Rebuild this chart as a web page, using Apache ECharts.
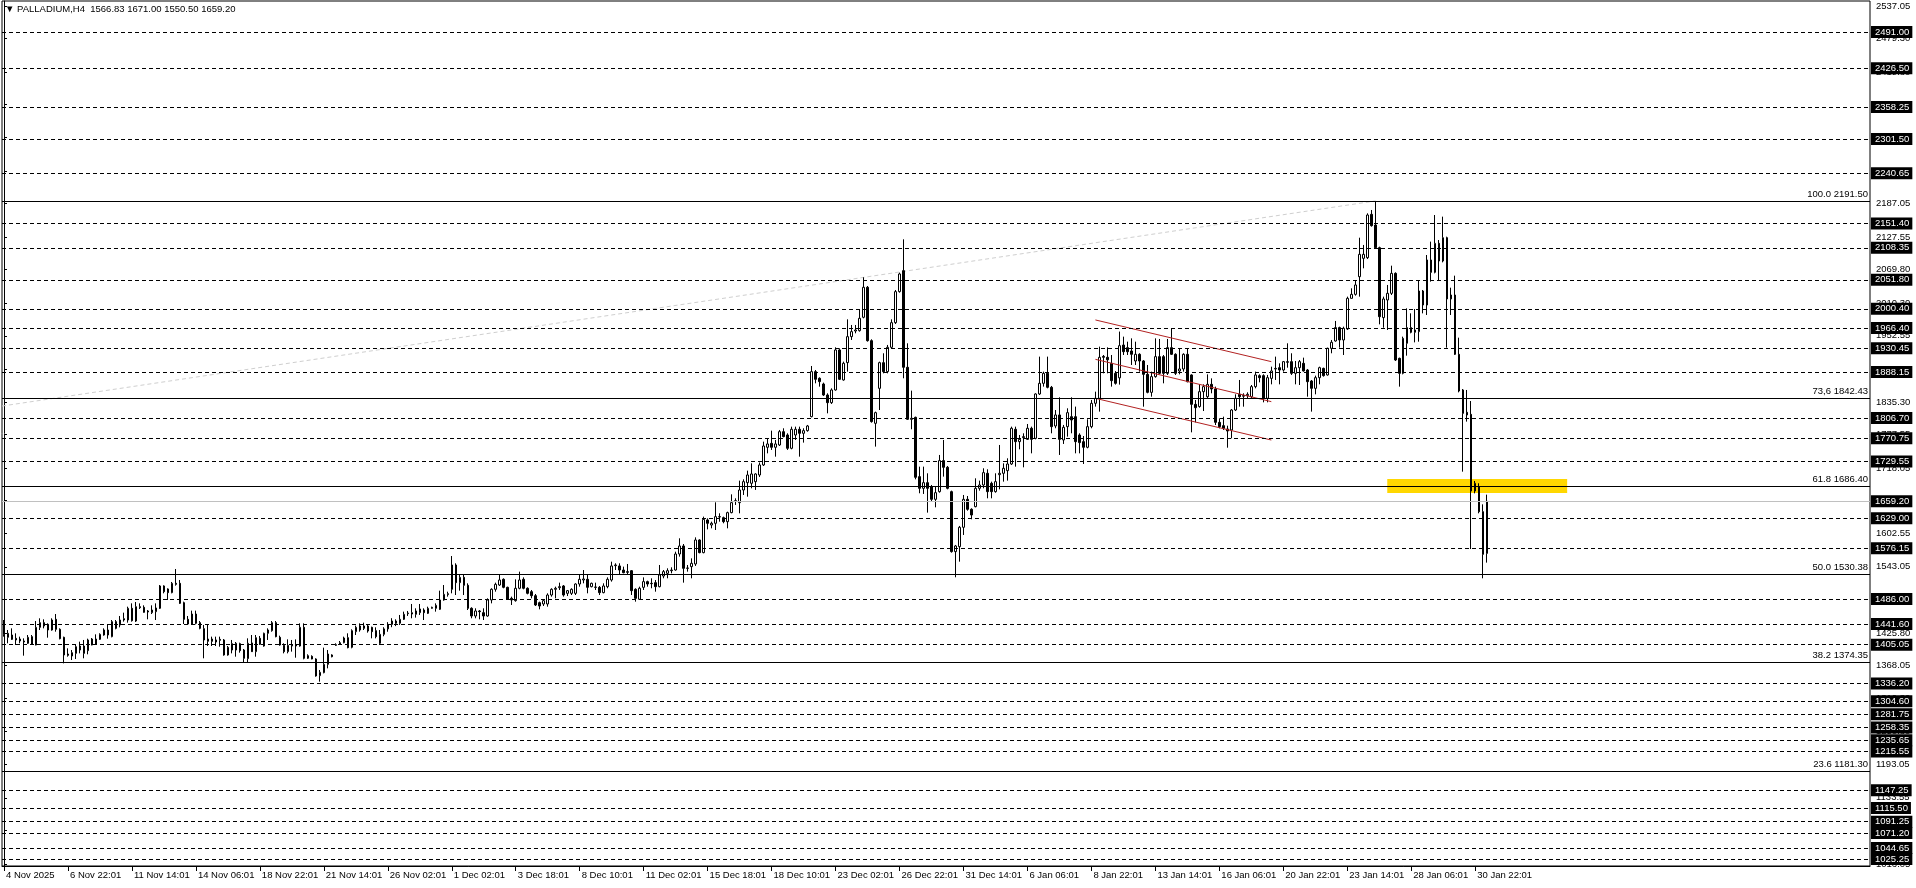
<!DOCTYPE html>
<html><head><meta charset="utf-8">
<script src="https://cdn.jsdelivr.net/npm/echarts@6/dist/echarts.min.js"></script>
<style>html,body{margin:0;padding:0;background:#fff;}#c{width:1916px;height:888px;}</style>
</head><body><div id="c"></div>
<script>
const symbolName = 'PALLADIUM,H4';
const opens = [1447.0,1418.1,1422.2,1416.3,1415.1,1411.6,1407.5,1419.3,1404.5,1435.8,
1444.1,1441.1,1431.1,1450.0,1432.3,1418.1,1388.5,1385.0,1389.7,1395.6,
1402.7,1394.5,1404.5,1405.7,1414.5,1422.2,1431.1,1419.3,1445.9,1440.0,
1448.8,1448.8,1469.5,1447.0,1472.4,1471.3,1464.8,1461.8,1463.6,1469.5,
1509.1,1503.8,1497.3,1513.8,1513.8,1479.5,1450.0,1441.7,1442.9,1444.1,
1433.4,1411.0,1415.1,1409.8,1414.5,1413.4,1386.8,1395.6,1395.6,1406.9,
1395.6,1380.3,1408.1,1392.7,1416.3,1402.7,1425.2,1429.9,1444.1,1418.1,
1403.9,1392.7,1403.9,1402.7,1402.7,1435.8,1380.9,1384.4,1379.7,1350.2,
1355.5,1370.2,1386.8,1403.9,1406.3,1408.6,1417.5,1400.4,1428.1,1431.1,
1438.2,1438.2,1435.8,1429.9,1407.5,1423.4,1433.0,1441.0,1447.0,1443.0,
1450.0,1460.0,1459.4,1458.9,1461.8,1466.5,1460.6,1469.5,1469.5,1467.7,
1484.3,1493.7,1503.2,1546.3,1515.0,1524.4,1510.3,1469.5,1455.9,1464.8,
1461.8,1455.9,1484.3,1503.2,1510.8,1520.9,1506.7,1487.2,1483.1,1505.0,
1520.9,1505.0,1499.0,1491.9,1479.5,1477.2,1477.2,1493.1,1503.2,1506.1,
1509.1,1496.1,1496.1,1496.1,1512.6,1519.7,1520.9,1507.9,1507.3,1506.7,
1497.3,1507.9,1519.7,1545.1,1544.6,1537.4,1534.5,1536.2,1503.2,1485.5,
1506.7,1516.8,1513.8,1515.0,1507.9,1526.8,1531.5,1536.2,1537.4,1565.8,
1580.0,1540.4,1543.4,1548.1,1590.6,1568.2,1626.1,1617.2,1620.2,1631.4,
1630.2,1623.1,1639.1,1659.2,1656.8,1679.2,1692.2,1691.1,1694.0,1705.8,
1723.6,1754.9,1761.9,1754.9,1759.0,1782.6,1776.7,1753.1,1776.7,1786.8,
1779.7,1784.4,1809.2,1889.0,1877.2,1867.1,1847.6,1834.0,1856.5,1927.4,
1874.2,1905.0,1951.0,1961.0,1961.6,1985.3,2038.5,1943.9,1797.4,1859.4,
1904.9,1889.0,1932.1,1975.8,2030.8,2068.0,1896.7,1804.5,1808.0,1702.9,
1682.2,1692.2,1685.2,1662.7,1676.3,1731.3,1719.4,1676.3,1570.0,1578.8,
1613.1,1662.7,1645.0,1649.7,1682.2,1688.1,1708.8,1691.1,1676.3,1706.4,
1708.8,1713.5,1725.3,1786.8,1764.9,1772.0,1769.0,1788.6,1770.8,1849.4,
1868.3,1886.0,1861.2,1792.7,1812.2,1767.9,1791.5,1809.2,1809.2,1776.7,
1764.9,1754.9,1791.5,1832.9,1841.7,1916.0,1914.4,1903.8,1886.0,1878.0,
1936.2,1931.5,1925.6,1907.9,1919.7,1907.9,1884.2,1852.3,1880.1,1915.6,
1915.6,1886.0,1931.5,1919.7,1890.2,1893.7,1919.7,1883.1,1831.0,1827.1,
1853.5,1844.6,1866.5,1858.2,1799.1,1793.3,1787.3,1785.6,1821.0,1848.8,
1845.4,1846.4,1844.6,1862.4,1881.9,1881.9,1841.7,1877.1,1893.7,1896.0,
1891.9,1905.5,1906.7,1886.0,1896.0,1903.7,1891.9,1872.4,1859.4,1878.3,
1894.8,1883.1,1930.3,1943.3,1967.0,1945.1,1964.6,2018.9,2026.0,2057.3,
2089.8,2091.0,2167.8,2148.9,2108.7,1984.7,2016.0,2027.8,2063.2,1912.6,
1886.0,1939.2,1967.0,1958.7,1959.9,2031.9,2007.1,2086.9,2065.0,2116.4,
2085.1,2126.4,2017.8,2024.8,1919.7,1856.5,1816.9,1813.3,1677.4,1685.1,
1640.8,1566.83];
const highs = [1448.8,1431.1,1434.0,1425.2,1419.3,1416.3,1422.2,1422.2,1447.0,1451.8,
1450.0,1442.9,1451.8,1459.4,1434.0,1419.3,1398.6,1395.6,1404.5,1410.4,
1413.4,1415.7,1416.9,1423.4,1425.2,1434.0,1440.0,1448.8,1448.8,1455.9,
1461.8,1472.4,1478.3,1480.7,1478.3,1474.8,1466.5,1474.8,1478.3,1510.8,
1510.3,1504.9,1516.2,1539.2,1519.7,1481.3,1455.9,1465.4,1465.4,1447.0,
1440.0,1441.1,1419.3,1419.3,1419.3,1415.1,1402.7,1413.4,1409.8,1408.6,
1397.4,1416.3,1422.2,1422.2,1420.5,1426.4,1434.0,1447.0,1447.0,1421.0,
1407.5,1414.5,1413.4,1414.5,1442.9,1442.9,1388.0,1386.2,1380.9,1360.2,
1399.8,1395.6,1388.0,1407.5,1411.6,1419.3,1425.2,1432.3,1438.8,1442.9,
1444.1,1441.7,1437.0,1435.8,1431.1,1436.0,1445.0,1452.0,1450.0,1457.7,
1463.6,1464.8,1477.2,1469.5,1477.2,1469.5,1472.4,1472.4,1478.3,1500.8,
1510.8,1499.0,1562.2,1549.3,1528.6,1528.6,1513.8,1471.3,1469.5,1466.5,
1469.5,1487.2,1505.0,1515.0,1530.3,1522.7,1507.9,1490.2,1520.9,1534.5,
1524.4,1506.7,1502.0,1494.9,1481.3,1485.5,1496.1,1505.0,1507.9,1515.0,
1510.8,1502.0,1505.0,1513.8,1530.3,1537.4,1528.6,1515.0,1515.0,1509.1,
1513.8,1524.4,1552.2,1549.3,1549.3,1543.4,1548.1,1537.4,1505.0,1507.9,
1524.4,1518.5,1522.7,1519.7,1546.3,1537.4,1540.4,1542.2,1569.9,1593.6,
1583.5,1546.3,1558.1,1595.3,1591.8,1632.0,1629.0,1623.1,1657.4,1637.9,
1632.0,1640.8,1671.5,1664.5,1695.8,1698.1,1713.5,1726.5,1708.8,1728.0,
1764.9,1770.8,1784.4,1767.9,1785.6,1788.6,1779.7,1791.5,1791.5,1791.5,
1788.6,1794.5,1899.0,1891.9,1878.9,1869.5,1850.6,1859.4,1932.1,1930.3,
1906.7,1981.7,1971.7,1971.7,1998.3,2056.2,2040.8,1946.3,1818.1,1906.7,
1921.5,1936.3,1981.7,2033.7,2064.5,2123.5,1939.2,1855.3,1809.2,1720.6,
1720.6,1708.8,1688.1,1685.2,1741.3,1767.9,1721.8,1678.1,1581.8,1615.5,
1670.4,1668.6,1646.8,1699.9,1695.8,1717.7,1715.9,1694.0,1708.8,1759.0,
1726.5,1735.4,1791.5,1791.5,1776.7,1779.7,1796.2,1791.5,1850.6,1915.6,
1889.0,1915.6,1863.6,1821.0,1843.5,1794.5,1824.0,1843.5,1827.0,1779.7,
1774.9,1804.5,1838.8,1853.5,1933.3,1918.5,1932.1,1918.5,1890.0,1960.0,
1951.0,1942.1,1948.0,1942.1,1921.5,1909.6,1900.8,1889.0,1948.0,1946.9,
1918.5,1946.9,1965.8,1921.5,1929.1,1921.5,1929.1,1884.2,1838.7,1866.5,
1866.5,1884.2,1877.1,1862.4,1806.2,1809.2,1793.2,1822.8,1848.8,1874.2,
1850.6,1852.3,1865.3,1889.0,1884.2,1884.2,1883.1,1897.8,1915.6,1903.7,
1907.9,1939.2,1921.5,1907.9,1909.6,1913.8,1893.7,1874.2,1881.9,1897.8,
1896.0,1931.5,1945.1,1978.8,1968.7,1968.7,2021.9,2036.7,2051.4,2126.4,
2113.5,2169.6,2175.5,2191.5,2110.5,2021.9,2042.6,2076.8,2065.0,1913.8,
1951.0,2001.2,1992.3,2000.0,2049.7,2033.7,2095.7,2119.4,2166.6,2122.3,
2163.7,2128.2,2037.8,2059.1,1949.2,1858.2,1856.5,1836.9,1695.2,1691.1,
1653.8,1671.0];
const lows = [1419.3,1407.5,1413.4,1404.5,1407.5,1385.6,1406.3,1404.5,1403.9,1431.1,
1434.0,1417.5,1429.9,1428.1,1414.5,1372.0,1383.8,1377.9,1379.7,1389.7,
1380.9,1388.0,1403.9,1404.5,1413.4,1421.0,1415.7,1418.1,1432.3,1435.8,
1445.9,1444.1,1445.9,1445.3,1468.3,1461.8,1450.0,1459.4,1448.8,1468.3,
1496.1,1484.3,1496.1,1509.7,1477.2,1441.7,1441.1,1441.1,1441.1,1432.3,
1380.9,1402.7,1402.7,1402.7,1401.5,1385.6,1385.6,1389.7,1383.8,1390.9,
1373.8,1373.8,1392.1,1383.8,1404.5,1401.5,1413.4,1428.1,1418.1,1403.3,
1389.7,1389.7,1392.7,1382.0,1401.5,1379.1,1379.7,1379.1,1348.4,1339.5,
1354.3,1363.1,1382.6,1402.7,1406.3,1407.5,1398.6,1398.6,1422.2,1428.1,
1431.1,1426.4,1416.3,1416.3,1404.5,1420.0,1428.0,1436.0,1438.0,1440.0,
1448.8,1456.0,1451.8,1453.0,1457.7,1448.8,1459.4,1468.9,1463.6,1466.5,
1483.1,1490.2,1496.1,1493.1,1500.8,1493.1,1466.5,1451.8,1451.8,1450.0,
1448.8,1454.7,1478.3,1499.0,1509.1,1505.0,1484.3,1475.4,1481.3,1503.2,
1503.2,1494.3,1487.2,1473.6,1467.7,1473.6,1472.4,1490.2,1487.2,1502.0,
1490.2,1491.3,1493.1,1493.1,1507.9,1513.8,1496.1,1506.7,1502.0,1493.1,
1496.1,1505.0,1516.8,1537.4,1528.6,1531.5,1528.6,1493.1,1481.3,1484.3,
1502.0,1507.9,1505.0,1499.0,1506.7,1522.7,1522.7,1531.5,1536.2,1561.1,
1515.0,1534.5,1522.7,1544.6,1567.0,1567.0,1609.5,1611.3,1608.3,1623.1,
1620.2,1611.3,1637.9,1652.7,1637.9,1670.4,1667.4,1682.2,1679.3,1702.3,
1721.8,1744.2,1750.2,1738.3,1757.2,1772.6,1750.2,1751.3,1767.9,1738.3,
1763.2,1782.6,1808.0,1868.3,1862.4,1845.9,1815.1,1831.7,1855.3,1874.2,
1873.0,1889.0,1945.1,1956.9,1959.9,1983.5,1942.2,1798.6,1756.1,1821.0,
1886.0,1886.0,1930.3,1973.5,2029.0,1877.2,1803.3,1786.8,1698.1,1673.4,
1672.2,1639.1,1658.6,1648.5,1674.5,1702.9,1680.4,1568.2,1524.5,1552.2,
1599.5,1642.6,1627.3,1648.5,1678.1,1682.2,1664.5,1664.5,1674.5,1680.4,
1694.0,1695.8,1723.6,1720.6,1751.3,1719.4,1767.9,1744.2,1769.0,1847.6,
1862.4,1859.4,1779.7,1788.6,1741.3,1760.8,1773.8,1779.7,1744.2,1744.2,
1725.3,1753.1,1788.6,1827.0,1818.1,1886.0,1886.0,1862.4,1866.0,1866.0,
1918.5,1918.5,1900.8,1900.8,1889.0,1826.9,1850.6,1844.6,1878.3,1884.2,
1868.3,1883.1,1918.5,1883.1,1884.2,1889.0,1870.0,1781.4,1799.1,1825.1,
1819.2,1841.7,1850.6,1794.4,1788.5,1785.6,1754.2,1770.8,1819.2,1826.9,
1826.9,1841.7,1841.7,1859.4,1870.0,1834.6,1834.6,1866.5,1874.2,1866.5,
1889.0,1896.0,1883.1,1866.5,1865.3,1889.0,1844.6,1818.1,1848.8,1866.5,
1880.1,1881.9,1921.5,1942.1,1931.5,1918.5,1962.8,2018.9,2023.7,2021.9,
2072.1,2088.6,2146.0,2107.6,1972.8,1966.9,1962.8,2024.8,1907.9,1862.4,
1884.2,1917.3,1956.9,1940.9,1942.1,1992.3,1989.4,2048.5,2063.2,2051.4,
2082.7,1931.5,1989.4,1918.5,1852.3,1711.7,1800.4,1574.6,1673.3,1637.9,
1522.7,1550.5];
const closes = [1423.4,1425.2,1414.5,1413.4,1411.6,1409.8,1418.1,1405.7,1435.8,1444.1,
1438.2,1431.1,1448.8,1432.3,1415.7,1386.8,1386.2,1390.9,1401.5,1402.7,
1389.7,1413.4,1415.1,1415.1,1423.4,1431.1,1422.2,1445.9,1434.0,1448.8,
1451.2,1469.5,1447.6,1472.4,1470.7,1462.4,1463.0,1466.5,1470.1,1509.1,
1499.0,1497.3,1513.8,1512.0,1478.3,1450.0,1441.7,1459.4,1459.4,1434.0,
1413.4,1415.1,1411.0,1413.4,1412.8,1386.8,1400.4,1406.9,1407.5,1394.5,
1380.9,1407.5,1392.7,1417.5,1405.7,1425.2,1431.1,1444.1,1419.3,1404.5,
1392.7,1403.9,1402.7,1404.5,1435.8,1380.9,1385.6,1379.7,1349.6,1356.1,
1370.2,1388.5,1383.8,1405.1,1408.6,1416.9,1399.8,1429.9,1435.8,1438.2,
1434.0,1429.3,1428.1,1419.3,1423.4,1433.0,1441.0,1447.0,1443.0,1450.0,
1458.9,1461.2,1461.8,1464.8,1468.3,1461.8,1469.5,1471.3,1474.8,1484.3,
1494.3,1495.5,1546.3,1515.0,1524.4,1510.3,1469.5,1455.9,1464.8,1463.6,
1455.9,1484.3,1503.2,1512.0,1519.7,1506.7,1485.5,1484.3,1505.0,1519.7,
1505.0,1496.1,1491.9,1475.4,1473.6,1483.1,1493.1,1503.2,1505.0,1507.9,
1493.1,1500.8,1503.2,1512.6,1520.9,1521.5,1506.7,1513.8,1506.7,1497.3,
1509.1,1520.9,1544.6,1546.3,1537.4,1532.7,1533.3,1500.8,1487.2,1505.0,
1516.8,1512.6,1513.2,1507.9,1528.6,1534.5,1536.2,1537.4,1565.8,1580.0,
1540.4,1541.0,1549.3,1590.6,1568.2,1627.2,1620.2,1620.2,1632.0,1632.0,
1623.1,1639.1,1656.8,1660.3,1679.2,1694.0,1705.8,1707.6,1707.6,1723.6,
1757.2,1760.8,1754.9,1760.8,1782.6,1773.8,1753.1,1786.8,1786.8,1779.7,
1784.4,1792.7,1889.0,1875.4,1871.3,1847.6,1834.0,1856.5,1927.4,1875.4,
1903.8,1951.0,1959.9,1962.8,1983.5,2038.5,1943.9,1800.4,1816.3,1904.9,
1889.0,1932.1,1975.8,2030.8,2062.1,1896.7,1804.5,1806.3,1701.7,1682.2,
1692.2,1682.2,1662.7,1674.5,1731.3,1719.4,1682.2,1570.0,1580.0,1613.1,
1662.7,1645.0,1634.9,1682.2,1688.1,1710.0,1676.3,1676.3,1694.0,1708.8,
1717.7,1725.3,1788.6,1764.9,1769.0,1773.8,1788.6,1769.0,1849.4,1868.3,
1886.0,1861.2,1791.5,1812.2,1769.0,1790.3,1816.3,1803.3,1764.9,1763.2,
1754.9,1791.5,1832.9,1841.7,1914.4,1914.4,1910.0,1873.0,1868.3,1935.0,
1924.4,1924.4,1919.7,1919.7,1907.9,1884.2,1852.3,1880.1,1915.6,1886.0,
1886.0,1931.5,1919.7,1886.0,1893.7,1919.7,1871.2,1831.0,1825.1,1853.5,
1862.4,1866.5,1858.2,1799.1,1791.5,1788.5,1783.8,1821.0,1841.7,1844.6,
1846.6,1848.8,1862.4,1883.1,1878.3,1841.7,1878.3,1890.2,1894.8,1891.9,
1906.7,1906.7,1886.0,1896.0,1906.7,1890.2,1871.2,1859.4,1878.3,1896.0,
1881.9,1930.3,1941.0,1967.0,1945.1,1965.8,2018.9,2026.0,2042.6,2096.9,
2096.9,2166.6,2147.7,2108.7,1986.4,2017.8,2027.8,2063.2,1909.6,1886.0,
1948.0,1967.0,1958.7,1962.8,2031.9,2007.1,2086.9,2065.0,2116.4,2085.1,
2126.4,2017.8,2024.8,1919.7,1854.7,1815.1,1812.2,1677.4,1691.1,1640.8,
1565.2,1659.2];

const timeLabels = ['4 Nov 2025','6 Nov 22:01','11 Nov 14:01','14 Nov 06:01','18 Nov 22:01','21 Nov 14:01',
'26 Nov 02:01','1 Dec 02:01','3 Dec 18:01','8 Dec 10:01','11 Dec 02:01','15 Dec 18:01','18 Dec 10:01',
'23 Dec 02:01','26 Dec 22:01','31 Dec 14:01','6 Jan 06:01','8 Jan 22:01','13 Jan 14:01','16 Jan 06:01',
'20 Jan 22:01','23 Jan 14:01','28 Jan 06:01','30 Jan 22:01'];
const barsPerLabel = 16;
const priceTicks = [1016.05,1075.80,1133.55,1193.05,1250.80,1310.30,1368.05,1425.80,1485.30,1543.05,
1602.55,1660.30,1718.05,1777.55,1835.30,1893.05,1952.55,2010.30,2069.80,2127.55,2187.05,
2244.80,2304.30,2362.05,2419.80,2479.30,2537.05];
const levelPrices = [2491.00,2426.50,2358.25,2301.50,2240.65,2151.40,2108.35,2051.80,2000.40,1966.40,
1930.45,1888.15,1806.70,1770.75,1729.55,1629.00,1576.15,1486.00,1441.60,1405.05,1336.20,1304.60,
1281.75,1258.35,1235.65,1215.55,1147.25,1115.50,1091.25,1071.20,1044.65,1025.25];
const bidPrice = 1659.20;
const fibPrices = [2191.50,1842.43,1686.40,1530.38,1374.35,1181.30];
const fibNames = ['100.0','73,6','61.8','50.0','38.2','23.6'];
const fibBaseLine = [[-0.5,1828.0],[343,2191.5]];
const channelTop = [[273,1980.6],[317,1906.7]];
const channelMid = [[273,1910.8],[317,1835.8]];
const channelBot = [[273,1841.7],[317,1767.8]];
const yellowZone = [[346,1698.7],[391,1673.9]];

const FONT = "'Liberation Sans',Arial,sans-serif";
const FS = 9.5;
const n = opens.length;
const candles = opens.map((o,i)=>[i,o,closes[i],lows[i],highs[i]]);
const tickIdx = timeLabels.map((_,k)=>k*barsPerLabel);

const chart = echarts.init(document.getElementById('c'), null, {renderer:'canvas'});
const boxLabel = {show:true,position:'end',distance:1,formatter:p=>Number(p.value).toFixed(2),
  backgroundColor:'#000',color:'#fff',fontSize:FS,fontFamily:FONT,padding:[1,3,1,4],lineHeight:10};
const option = {
  animation:false,
  backgroundColor:'#fff',
  grid:{left:2,right:46,top:1,bottom:22,show:true,borderColor:'#000',borderWidth:1,backgroundColor:'#fff'},
  graphic:[{type:'text',left:5,top:4,style:{
    text:'\u25BC '+symbolName+'  '+opens[n-1].toFixed(2)+' '+highs[n-1].toFixed(2)+' '+lows[n-1].toFixed(2)+' '+closes[n-1].toFixed(2),
    font:FS+'px '+FONT, fill:'#000'}}],
  xAxis:{type:'value',min:-0.5,max:466.75,
    axisLine:{show:true,lineStyle:{color:'#000',width:1}},
    axisTick:{show:true,customValues:tickIdx,length:5,lineStyle:{color:'#000'}},
    axisLabel:{show:true,customValues:tickIdx,formatter:v=>timeLabels[Math.round(v/barsPerLabel)]||'',
      align:'left',margin:4,padding:[0,0,0,2],color:'#000',fontSize:FS,fontFamily:FONT},
    splitLine:{show:false}},
  yAxis:{type:'value',position:'right',min:1012.8,max:2545.9,scale:true,
    axisLine:{show:true,lineStyle:{color:'#000',width:1}},
    axisTick:{show:true,customValues:priceTicks,length:3,lineStyle:{color:'#000'}},
    axisLabel:{show:true,customValues:priceTicks,formatter:v=>v.toFixed(2),margin:6,color:'#000',fontSize:FS,fontFamily:FONT},
    splitLine:{show:false}},
  series:[
    {type:'line',data:[],z:1,silent:true,
      markArea:{silent:true,itemStyle:{color:'#ffd700'},
        data:[[{xAxis:yellowZone[0][0],yAxis:yellowZone[0][1]},{xAxis:yellowZone[1][0],yAxis:yellowZone[1][1]}]]}},
    {type:'line',data:fibBaseLine,z:2,silent:true,symbol:'none',lineStyle:{color:'#cfcfcf',width:1,type:[4,3]}},
    {type:'line',data:[],z:2,silent:true,
      markLine:{silent:true,symbol:['none','none'],
        lineStyle:{color:'#000',width:1,type:[4,3]},
        label:boxLabel,
        data:levelPrices.map(v=>({yAxis:v}))}},
    {type:'line',data:[],z:2,silent:true,
      markLine:{silent:true,symbol:['none','none'],
        lineStyle:{color:'#c0c0c0',width:1,type:'solid'},
        label:boxLabel,
        data:[{yAxis:bidPrice}]}},
    {type:'candlestick',z:3,silent:true,barWidth:2,
      encode:{x:0,y:[1,2,3,4]},
      itemStyle:{color:'#fff',color0:'#000',borderColor:'#000',borderColor0:'#000',borderWidth:1},
      data:candles},
    {type:'line',data:[],z:4,silent:true,
      markLine:{silent:true,symbol:['none','none'],
        lineStyle:{color:'#000',width:1,type:'solid'},
        label:{show:true,position:'insideEndTop',distance:[2,2],color:'#000',fontSize:FS,fontFamily:FONT},
        data:fibPrices.map((v,k)=>({yAxis:v,label:{formatter:fibNames[k]+' '+v.toFixed(2)}}))}},
    {type:'line',data:channelTop,z:4,silent:true,symbol:'none',lineStyle:{color:'#b22222',width:1}},
    {type:'line',data:channelMid,z:4,silent:true,symbol:'none',lineStyle:{color:'#b22222',width:1}},
    {type:'line',data:channelBot,z:4,silent:true,symbol:'none',lineStyle:{color:'#b22222',width:1}}
  ]
};
chart.setOption(option);
</script>
</body></html>
